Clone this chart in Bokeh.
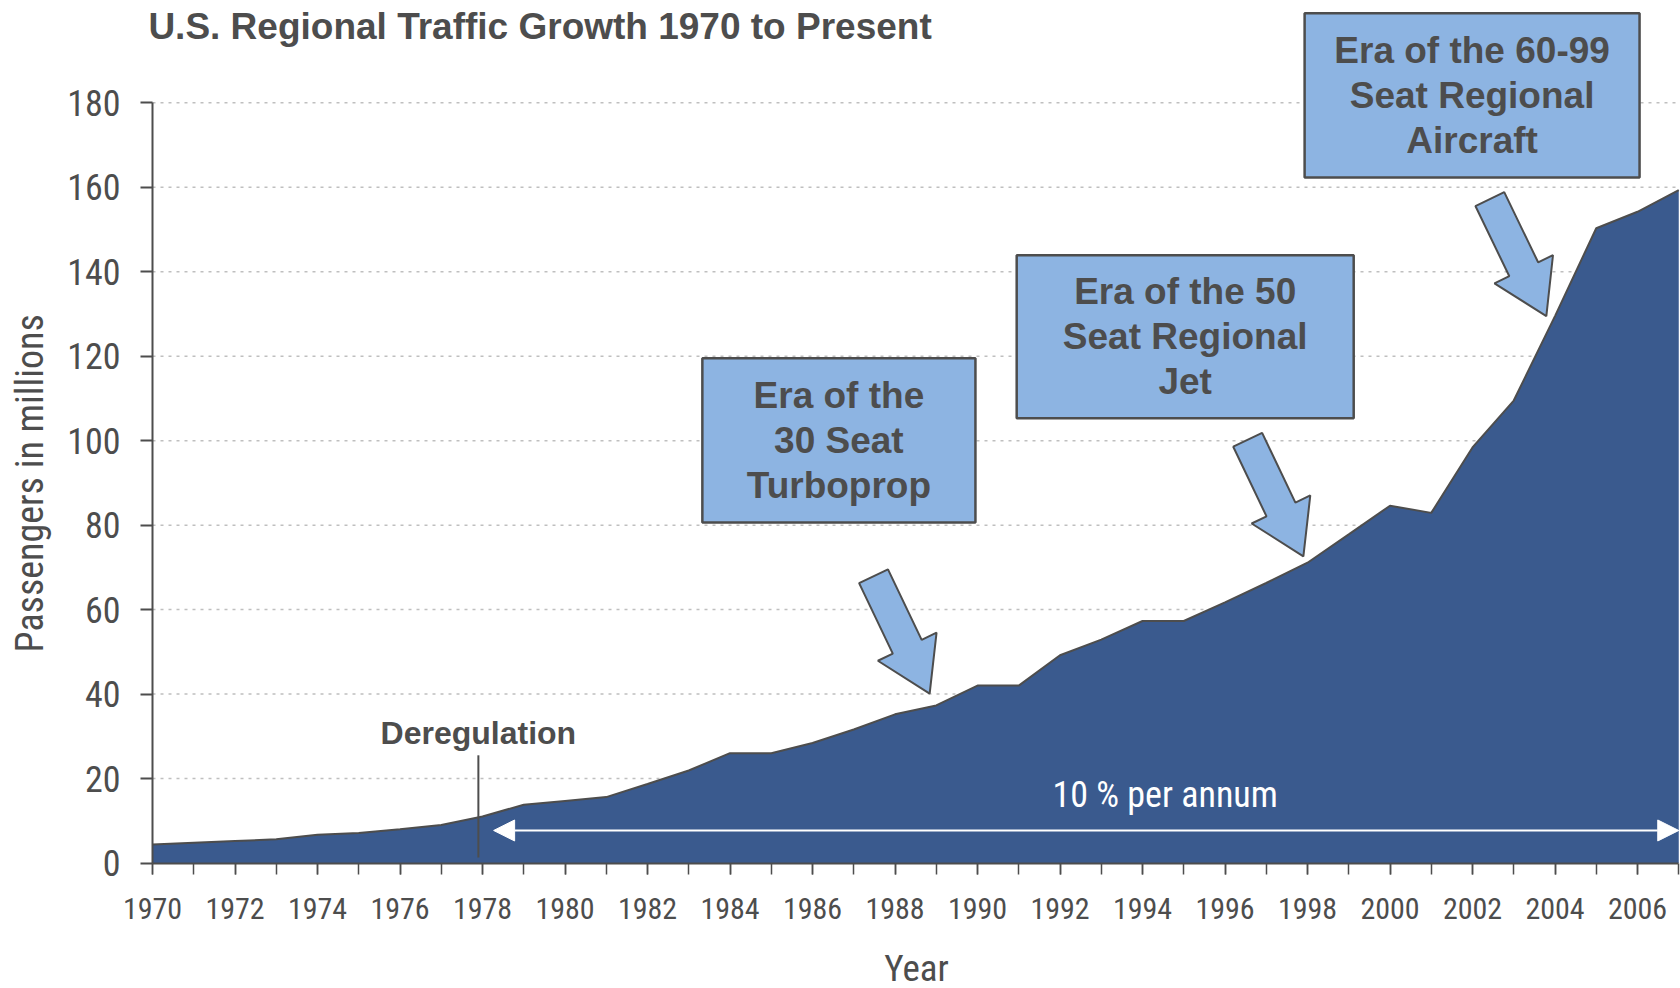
import numpy as np
from bokeh.plotting import figure
from bokeh.models import Range1d, FixedTicker, Arrow, NormalHead
from bokeh.core.properties import value
from bokeh.embed import file_html
from bokeh.resources import INLINE

# ---------------- data ----------------
years = list(range(1970, 2008))
passengers = [4.4, 4.8, 5.2, 5.6, 6.7, 7.1, 8.0, 9.0, 11.0, 13.8,
              14.7, 15.6, 18.7, 21.9, 26.0, 26.0, 28.4, 31.6, 35.2, 37.3,
              42.0, 42.0, 49.2, 52.9, 57.3, 57.3, 61.7, 66.3, 71.1, 77.8,
              84.6, 82.9, 98.4, 109.5, 129.5, 150.3, 154.2, 159.3]
y_ticks = [0, 20, 40, 60, 80, 100, 120, 140, 160, 180]
x_label_years = list(range(1970, 2007, 2))

title_text = "U.S. Regional Traffic Growth 1970 to Present"
y_title = "Passengers in millions"
x_title = "Year"

box_labels = [["Era of the", "30 Seat", "Turboprop"],
              ["Era of the 50", "Seat Regional", "Jet"],
              ["Era of the 60-99", "Seat Regional", "Aircraft"]]
box_left = [1983.33, 1990.95, 1997.93]
box_right = [1989.95, 1999.12, 2006.05]
box_top = [119.5, 143.9, 201.2]
box_bottom = [80.6, 105.3, 162.3]

arrow_tail_x = [1987.48, 1996.55, 2002.42]
arrow_tail_y = [67.9, 100.2, 157.2]
arrow_tip_x = [1988.84, 1997.90, 2003.79]
arrow_tip_y = [40.1, 72.6, 129.5]

dereg_text = "Deregulation"
dereg_year = 1977.9
dereg_line = (1.3, 25.5)
dereg_label_y = 30.7

growth_text = "10 % per annum"
growth_text_pos = (1994.55, 16.0)
growth_arrow_y = 7.7
growth_arrow_x = (1978.27, 2007.0)

# ---------------- style ----------------
AREA = "#3A5A8E"
DARK = "#4D4D4D"
BOXC = "#8DB4E2"
GRID = "#BFBFBF"
NARROW = "Roboto Condensed"
SANS = "Liberation Sans"

W, H = 1680, 988
PX_YEAR = 41.25
PX_UNIT = 4.2233
X_AXIS_PX = 152.0   # page x of 1970
Y_AXIS_PX = 862.5   # page y of 0
X0 = 1970 - X_AXIS_PX / PX_YEAR
X1 = 1970 + (W - X_AXIS_PX) / PX_YEAR
Y0 = -(H - Y_AXIS_PX) / PX_UNIT
Y1 = Y_AXIS_PX / PX_UNIT
sx, sy = PX_YEAR, PX_UNIT

p = figure(width=W, height=H, x_range=Range1d(X0, X1), y_range=Range1d(Y0, Y1),
           output_backend="svg", toolbar_location=None,
           min_border_left=0, min_border_right=0, min_border_top=0,
           min_border_bottom=0)
p.outline_line_color = None
p.background_fill_color = "white"
p.border_fill_color = "white"
p.xgrid.visible = False
p.ygrid.visible = False

# horizontal dotted grid lines (from the y axis to the right)
gy = y_ticks[1:]
p.segment(x0=[1970] * len(gy), y0=gy, x1=[X1] * len(gy), y1=gy,
          line_color=GRID, line_dash="3 5", line_width=1.5, level="underlay")

# area
p.varea(x=years, y1=0, y2=passengers, fill_color=AREA)
p.line(x=years, y=passengers, line_color=DARK, line_width=2)

# axes (fixed inside the frame)
ya = p.yaxis[0]
ya.fixed_location = 1970
ya.ticker = FixedTicker(ticks=y_ticks)
ya.bounds = (0, 180)
ya.axis_line_color = DARK
ya.axis_line_width = 2
ya.major_tick_line_color = DARK
ya.major_tick_line_width = 2
ya.major_tick_out = 12
ya.major_tick_in = 0
ya.minor_tick_line_color = None
ya.major_label_text_font = NARROW
ya.major_label_text_font_size = "36px"
ya.major_label_text_color = DARK
ya.major_label_standoff = 20

xa = p.xaxis[0]
xa.fixed_location = 0
xa.ticker = FixedTicker(ticks=x_label_years, minor_ticks=years)
xa.bounds = (1970, 2007)
xa.axis_line_color = DARK
xa.axis_line_width = 2
xa.major_tick_line_color = DARK
xa.minor_tick_line_color = DARK
xa.major_tick_line_width = 1.5
xa.minor_tick_line_width = 1.5
xa.major_tick_out = 11
xa.major_tick_in = 0
xa.minor_tick_out = 11
xa.minor_tick_in = 0
xa.major_label_text_font = NARROW
xa.major_label_text_font_size = "30px"
xa.major_label_text_color = DARK
xa.major_label_standoff = 24

# axis titles as text
p.text(x=[1967.02], y=[89.9], text=[y_title], angle=np.pi / 2,
       text_font=value(NARROW), text_font_size="38px", text_color=DARK,
       text_align="center", text_baseline="middle")
p.text(x=[1988.52], y=[(Y_AXIS_PX - 967.5) / PX_UNIT], text=[x_title],
       text_font=value(NARROW), text_font_size="37px", text_color=DARK,
       text_align="center", text_baseline="middle")

# growth double arrow + text
p.add_layout(Arrow(start=NormalHead(size=21, fill_color="white", line_color="white"),
                   end=NormalHead(size=21, fill_color="white", line_color="white"),
                   x_start=growth_arrow_x[0], y_start=growth_arrow_y,
                   x_end=growth_arrow_x[1], y_end=growth_arrow_y,
                   line_color="white", line_width=2))
p.text(x=[growth_text_pos[0]], y=[growth_text_pos[1]], text=[growth_text],
       text_font=value(NARROW), text_font_size="36px", text_color="white",
       text_align="center", text_baseline="middle")

# deregulation
p.segment(x0=[dereg_year], y0=[dereg_line[0]], x1=[dereg_year], y1=[dereg_line[1]],
          line_color=DARK, line_width=2)
p.text(x=[dereg_year], y=[dereg_label_y], text=[dereg_text],
       text_font=value(SANS), text_font_style="bold", text_font_size="32px",
       text_color=DARK, text_align="center", text_baseline="middle")

# block arrows
def block_arrow(tx, ty, hx, hy, shaft=32.0, head_w=65.0, head_l=52.0):
    t = np.array([tx * sx, ty * sy])
    h = np.array([hx * sx, hy * sy])
    d = h - t
    d = d / np.hypot(*d)
    n = np.array([-d[1], d[0]])
    b = h - d * head_l
    pts = [t + n * shaft / 2, b + n * shaft / 2, b + n * head_w / 2, h,
           b - n * head_w / 2, b - n * shaft / 2, t - n * shaft / 2]
    return [q[0] / sx for q in pts], [q[1] / sy for q in pts]

axs, ays = [], []
for i in range(3):
    a, b = block_arrow(arrow_tail_x[i], arrow_tail_y[i], arrow_tip_x[i], arrow_tip_y[i])
    axs.append(a)
    ays.append(b)
p.patches(xs=axs, ys=ays, fill_color=BOXC, line_color=DARK, line_width=2)

# boxes
p.quad(left=box_left, right=box_right, top=box_top, bottom=box_bottom,
       fill_color=BOXC, line_color=DARK, line_width=2.5)
LINE = 45.0 / sy
tx, ty, tt = [], [], []
for i, lines in enumerate(box_labels):
    cx = (box_left[i] + box_right[i]) / 2
    cy = (box_top[i] + box_bottom[i]) / 2
    for j, s in enumerate(lines):
        tx.append(cx)
        ty.append(cy + (1 - j) * LINE)
        tt.append(s)
p.text(x=tx, y=ty, text=tt, text_font=value(SANS), text_font_style="bold",
       text_font_size="37px", text_color=DARK, text_align="center",
       text_baseline="middle")

# title
p.text(x=[1969.9], y=[198.1], text=[title_text], text_font=value(SANS),
       text_font_style="bold", text_font_size="37px", text_color=DARK,
       text_align="left", text_baseline="middle")

open("out.html", "w").write(file_html(p, INLINE))
